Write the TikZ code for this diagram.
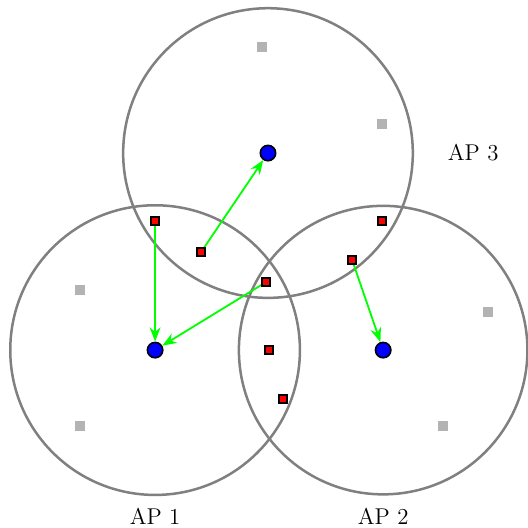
\documentclass[tikz,border=0pt]{standalone}
\usetikzlibrary{arrows.meta,positioning}
\definecolor{RangeEdge}{HTML}{808080}
\definecolor{FarFill}{HTML}{B3B3B3}
\definecolor{LinkLine}{HTML}{00FF00}
\definecolor{ClientFill}{HTML}{FF0000}
\definecolor{APFill}{HTML}{0000FF}
\tikzset{
  range circle/.style={draw=RangeEdge, line width=1.25pt},
  ap dot/.style={circle, draw=black, fill=APFill, line width=0.8pt, minimum size=0.27cm, inner sep=0pt},
  client box/.style={rectangle, draw=black, fill=ClientFill, line width=1pt, minimum size=0.15cm, inner sep=0pt},
  far box/.style={rectangle, fill=FarFill, minimum size=0.17cm, inner sep=0pt},
  ap label/.style={font=\fontsize{11.4}{13.5}\selectfont, inner sep=0pt},
  link/.style={-{Stealth[length=2.5mm,width=1.9mm]}, draw=LinkLine, line width=0.9pt},
}

\begin{document}
\begin{tikzpicture}
  \useasboundingbox (-2.72,-3.12) rectangle (6.54,6.14);

  % Access points and their coverage ranges.
  \node[ap dot] (ap1) at (0,0) {};
  \node[ap dot] (ap2) at (4,0) {};
  \node[ap dot] (ap3) at (1.98,3.456) {};

  \draw[range circle] (ap1.center) circle (2.54);
  \draw[range circle] (ap2.center) circle (2.53);
  \draw[range circle] (ap3.center) circle (2.54);

  \node[ap label] (lab1) at (0,-2.91) {AP 1};
  \node[ap label] (lab2) at (4,-2.91) {AP 2};
  \node[ap label] (lab3) at (5.58,3.46) {AP 3};

  % Stations outside every range.
  \node[far box] (far1) at (1.88,5.32) {};
  \node[far box] (far2) at (3.98,3.96) {};
  \node[far box] (far3) at (-1.32,1.05) {};
  \node[far box] (far4) at (-1.32,-1.33) {};
  \node[far box] (far5) at (5.84,0.67) {};
  \node[far box] (far6) at (5.05,-1.33) {};

  % Associations drawn below the stations.
  \coordinate (c1pos) at (0,2.263);
  \coordinate (c2pos) at (0.807,1.719);
  \coordinate (c3pos) at (1.947,1.193);
  \coordinate (c5pos) at (3.456,1.579);
  \draw[link] (c1pos) -- (ap1);
  \draw[link] (c3pos) -- (ap1);
  \draw[link] (c2pos) -- (ap3);
  \draw[link] (c5pos) -- (ap2);

  % Stations inside at least one range.
  \node[client box] (c1) at (c1pos) {};
  \node[client box] (c2) at (c2pos) {};
  \node[client box] (c3) at (c3pos) {};
  \node[client box] (c4) at (3.982,2.263) {};
  \node[client box] (c5) at (c5pos) {};
  \node[client box] (c6) at (2.0,0) {};
  \node[client box] (c7) at (2.246,-0.86) {};
\end{tikzpicture}
\end{document}
